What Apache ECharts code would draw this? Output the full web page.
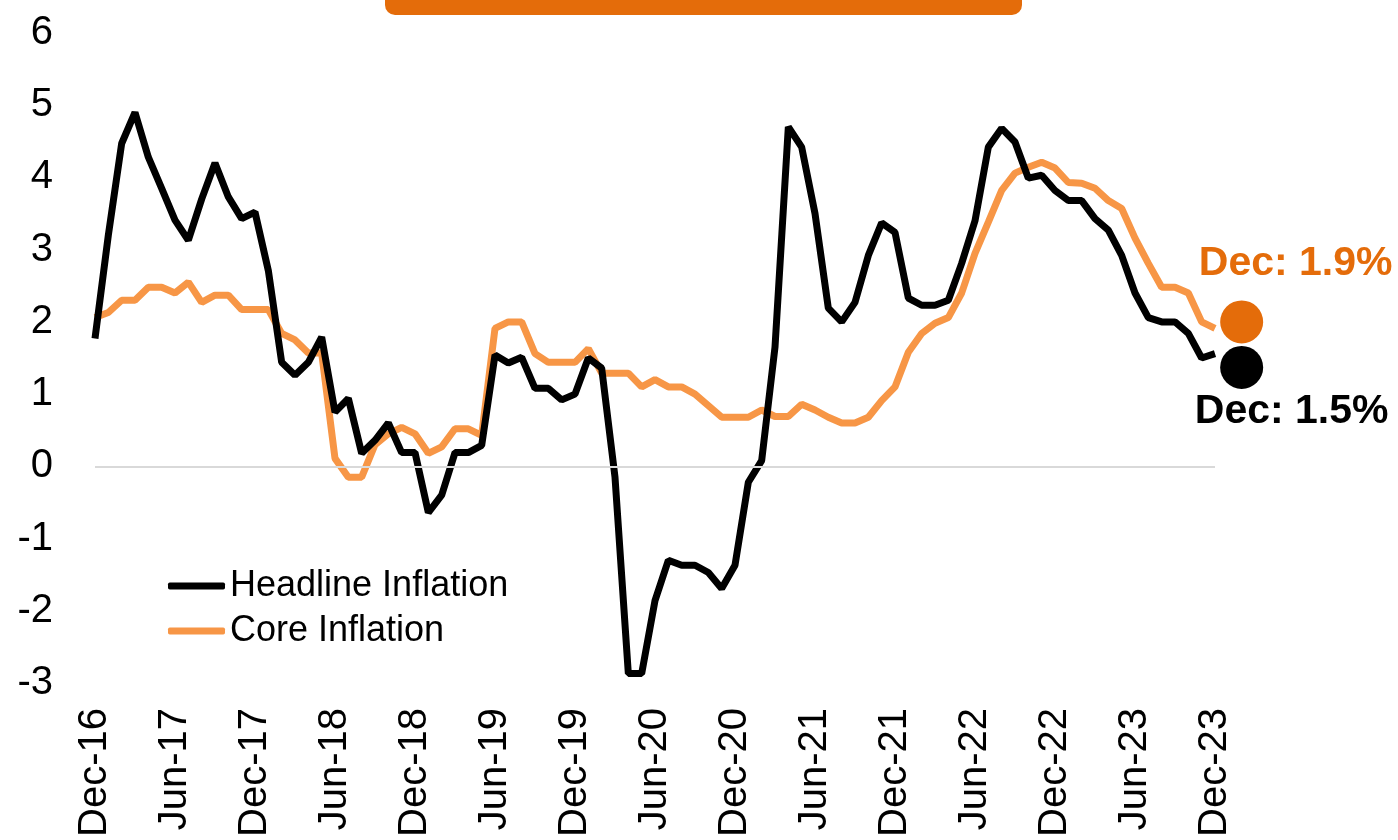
<!DOCTYPE html>
<html>
<head>
<meta charset="utf-8">
<script src="https://cdn.jsdelivr.net/npm/echarts@6/dist/echarts.min.js"></script>
<style>
  html, body { margin: 0; padding: 0; background: #fff; }
  #chart { width: 1398px; height: 840px; }
</style>
</head>
<body>
<div id="chart"></div>
<script>
// months Dec-16 .. Dec-23
var monthNames = ['Jan','Feb','Mar','Apr','May','Jun','Jul','Aug','Sep','Oct','Nov','Dec'];
var months = ['Dec-16'];
for (var y = 17; y <= 23; y++) {
  for (var m = 0; m < 12; m++) months.push(monthNames[m] + '-' + y);
}

var headline = [1.77,
  3.2, 4.47, 4.9, 4.28, 3.85, 3.41, 3.13, 3.7, 4.2, 3.73, 3.43, 3.52,
  2.71, 1.44, 1.26, 1.44, 1.79, 0.75, 0.94, 0.18, 0.36, 0.6, 0.19, 0.19,
  -0.64, -0.4, 0.19, 0.19, 0.29, 1.54, 1.43, 1.51, 1.08, 1.08, 0.92, 1.0,
  1.5, 1.36, -0.15, -2.87, -2.87, -1.86, -1.3, -1.37, -1.37, -1.47, -1.69, -1.37,
  -0.22, 0.08, 1.65, 4.7, 4.42, 3.5, 2.19, 2.0, 2.27, 2.92, 3.37, 3.24,
  2.33, 2.23, 2.23, 2.3, 2.81, 3.4, 4.42, 4.68, 4.49, 3.99, 4.03, 3.82,
  3.68, 3.68, 3.43, 3.27, 2.92, 2.4, 2.06, 2.0, 2.0, 1.84, 1.5, 1.56];

var core = [2.06,
  2.13, 2.3, 2.3, 2.48, 2.48, 2.4, 2.55, 2.27, 2.37, 2.37, 2.17, 2.17,
  2.17, 1.84, 1.75, 1.57, 1.57, 0.11, -0.15, -0.15, 0.3, 0.45, 0.54, 0.45,
  0.18, 0.27, 0.52, 0.52, 0.43, 1.91, 2.0, 2.0, 1.56, 1.44, 1.44, 1.44,
  1.63, 1.29, 1.29, 1.29, 1.1, 1.2, 1.1, 1.1, 1.0, 0.84, 0.68, 0.68,
  0.68, 0.78, 0.69, 0.69, 0.86, 0.78, 0.68, 0.6, 0.6, 0.68, 0.91, 1.1,
  1.58, 1.84, 1.98, 2.06, 2.4, 2.95, 3.38, 3.82, 4.06, 4.14, 4.21, 4.13,
  3.93, 3.92, 3.85, 3.68, 3.57, 3.16, 2.81, 2.48, 2.48, 2.4, 2.0, 1.91];

// end-of-series callouts (x in month index, beyond last month)
var coreDot = [86, 2.0];
var headlineDot = [86, 1.37];
var coreDotLabel = 'Dec: 1.9%';
var headlineDotLabel = 'Dec: 1.5%';

var font = "'Liberation Sans', Arial, sans-serif";
var orangeLine = '#F79646';
var orangeDark = '#E46C0A';

var chart = echarts.init(document.getElementById('chart'));

var option = {
  animation: false,
  textStyle: { fontFamily: font },
  graphic: [{
    type: 'rect',
    shape: { x: 385, y: -20, width: 637, height: 35, r: 10 },
    style: { fill: orangeDark }
  }],
  legend: {
    orient: 'vertical',
    left: 163,
    top: 563,
    icon: 'roundRect',
    itemWidth: 57,
    itemHeight: 7,
    itemGap: 9,
    textStyle: { fontSize: 36, color: '#000', fontFamily: font },
    data: ['Headline Inflation', 'Core Inflation']
  },
  grid: { left: 95, right: 183, top: 33, bottom: 157 },
  xAxis: [{
    type: 'category',
    data: months,
    boundaryGap: false,
    axisLine: { show: false },
    axisTick: { show: false },
    axisLabel: {
      interval: 5,
      rotate: 90,
      margin: 25,
      fontSize: 40,
      color: '#000',
      fontFamily: font
    }
  }, {
    type: 'value',
    min: 0,
    max: 84,
    show: false
  }],
  yAxis: {
    type: 'value',
    min: -3,
    max: 6,
    interval: 1,
    axisLine: { show: false },
    axisTick: { show: false },
    splitLine: { show: false },
    axisLabel: { fontSize: 40, color: '#000', margin: 42, fontFamily: font }
  },
  series: [{
    name: 'Headline Inflation',
    type: 'line',
    data: headline,
    symbol: 'none',
    z: 3,
    lineStyle: { color: '#000', width: 7 },
    itemStyle: { color: '#000' },
    markLine: {
      silent: true,
      symbol: 'none',
      label: { show: false },
      lineStyle: { color: '#d9d9d9', width: 2, type: 'solid' },
      data: [{ yAxis: 0 }]
    }
  }, {
    name: 'Core Inflation',
    type: 'line',
    data: core,
    symbol: 'none',
    z: 2,
    lineStyle: { color: orangeLine, width: 7 },
    itemStyle: { color: orangeLine }
  }, {
    name: 'dots',
    type: 'scatter',
    xAxisIndex: 1,
    clip: false,
    symbolSize: 43,
    data: [{
      value: coreDot,
      itemStyle: { color: orangeDark, opacity: 1 },
      label: {
        show: true, position: 'top', offset: [54, -11],
        formatter: coreDotLabel, color: orangeDark,
        fontSize: 41, fontWeight: 'bold', fontFamily: font
      }
    }, {
      value: headlineDot,
      itemStyle: { color: '#000', opacity: 1 },
      label: {
        show: true, position: 'bottom', offset: [50, -3],
        formatter: headlineDotLabel, color: '#000',
        fontSize: 41, fontWeight: 'bold', fontFamily: font
      }
    }]
  }]
};

chart.setOption(option);
</script>
</body>
</html>
